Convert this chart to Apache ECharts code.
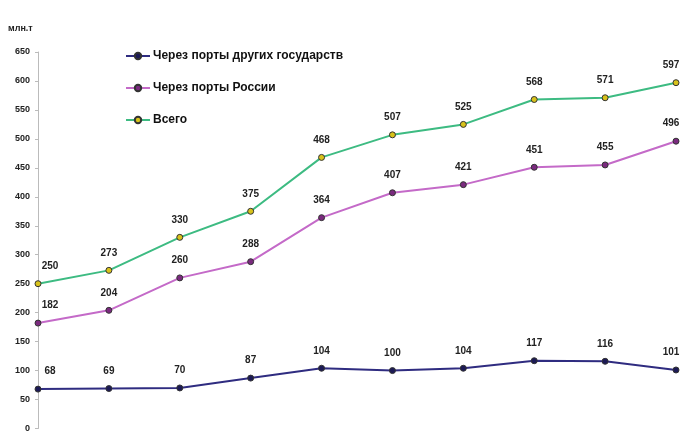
<!DOCTYPE html>
<html>
<head>
<meta charset="utf-8">
<script src="https://cdn.jsdelivr.net/npm/echarts@6/dist/echarts.min.js"></script>
<style>
  html, body { margin: 0; padding: 0; background: #fff; }
  #chart { width: 683px; height: 433px; }
</style>
</head>
<body>
<div id="chart"></div>
<script>
var years = ["2000", "2001", "2002", "2003", "2004", "2005", "2006", "2007", "2008", "2009"];
var otherPorts = [68, 69, 70, 87, 104, 100, 104, 117, 116, 101];
var russianPorts = [182, 204, 260, 288, 364, 407, 421, 451, 455, 496];
var total = [250, 273, 330, 375, 468, 507, 525, 568, 571, 597];
var seriesNames = ["Через порты других государств", "Через порты России", "Всего"];

var myChart = echarts.init(document.getElementById("chart"));

function makeSeries(name, data, lineColor, dotColor) {
  return {
    name: name,
    type: "line",
    data: data,
    symbol: "circle",
    symbolSize: 6,
    lineStyle: { color: lineColor, width: 2 },
    itemStyle: { color: dotColor, borderColor: "#333", borderWidth: 1 },
    label: {
      show: true,
      position: "top",
      distance: 9,
      color: "#222",
      fontSize: 10,
      fontWeight: "bold",
      fontFamily: "Liberation Sans"
    },
    // первая подпись сдвинута вправо от оси, последняя - влево
    labelLayout: function (params) {
      if (params.dataIndex === 0) {
        return { dx: 12 };
      }
      if (params.dataIndex === data.length - 1) {
        return { dx: -5 };
      }
      return {};
    }
  };
}

var option = {
  animation: false,
  legend: {
    orient: "vertical",
    left: 120,
    top: 45,
    itemGap: 20,
    itemWidth: 24,
    itemHeight: 8,
    textStyle: {
      color: "#111",
      fontSize: 12,
      fontWeight: "bold",
      fontFamily: "Liberation Sans",
      padding: [0, 0, 0, -2]
    },
    data: seriesNames
  },
  graphic: [{
    type: "text",
    left: 8,
    top: 24,
    style: { text: "млн.т", fontSize: 9, fontWeight: "bold", fill: "#222", fontFamily: "Liberation Sans" }
  }],
  grid: {
    left: 38,
    right: 7,
    top: 52,
    bottom: 3,
    containLabel: false
  },
  xAxis: {
    type: "category",
    data: years,
    boundaryGap: false,
    axisLine: { show: false },
    axisTick: { show: false },
    axisLabel: { show: false },
    splitLine: { show: false }
  },
  yAxis: {
    type: "value",
    min: 0,
    max: 650,
    interval: 50,
    axisLine: { show: true, lineStyle: { color: "#bbb", width: 1 } },
    axisTick: { show: true, length: 3, lineStyle: { color: "#bbb" } },
    splitLine: { show: false },
    axisLabel: {
      color: "#222",
      fontSize: 9,
      fontWeight: "bold",
      fontFamily: "Liberation Sans",
      margin: 8
    }
  },
  series: [
    makeSeries(seriesNames[0], otherPorts, "#2f2c80", "#1c1a55"),
    makeSeries(seriesNames[1], russianPorts, "#c46ac8", "#7a2a7e"),
    makeSeries(seriesNames[2], total, "#3dbb82", "#d8c21a")
  ]
};

myChart.setOption(option);
</script>
</body>
</html>
